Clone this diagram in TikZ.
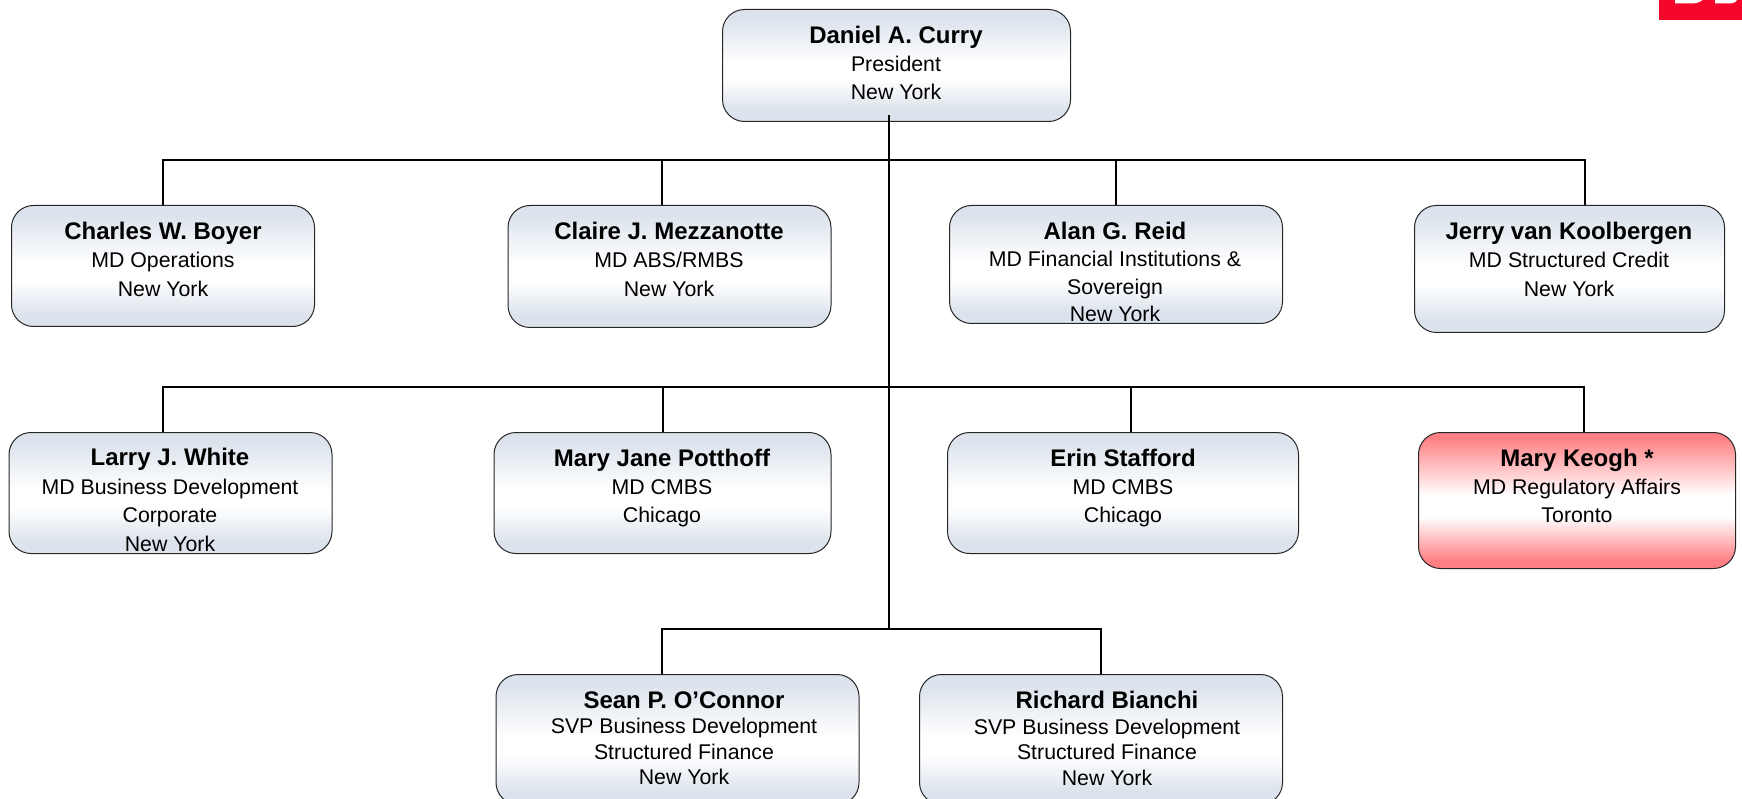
\documentclass[tikz,border=0pt]{standalone}
\usepackage{fontspec}
\setmainfont{Liberation Sans}
\definecolor{bandblue}{HTML}{DCE3EC}
\definecolor{bandred}{HTML}{FF8084}
\definecolor{logored}{HTML}{F5062B}
\pgfdeclareverticalshading{blueband}{100bp}{color(0bp)=(bandblue);color(30bp)=(bandblue);color(44bp)=(white);color(51bp)=(white);color(71bp)=(bandblue);color(100bp)=(bandblue)}
\pgfdeclareverticalshading{redband}{100bp}{color(0bp)=(bandred);color(28bp)=(bandred);color(44bp)=(white);color(52bp)=(white);color(73bp)=(bandred);color(100bp)=(bandred)}
\tikzset{
  box/.style={draw=black!85,line width=1pt,rounded corners=22pt,anchor=north west,inner sep=0pt,shading=blueband},
  redbox/.style={box,shading=redband},
  tlabel/.style={anchor=north,align=center,inner sep=0pt,text=black,font=\fontsize{21.3}{#1}\selectfont},
  wire/.style={draw=black,line width=2pt,line cap=butt,line join=miter}
}
\newcommand{\nm}[1]{{\fontsize{24}{28}\selectfont\bfseries #1}}
\begin{document}
\begin{tikzpicture}[x=1pt,y=-1pt]
\useasboundingbox (0,0) rectangle (1742,799);
\clip (0,0) rectangle (1742,799);
% logo
\fill[logored] (1659,-1) rectangle (1743,20);
\fill[white] (1675,-1) -- (1675,3.5) -- (1693,3.5) .. controls (1699,3) and (1702,1) .. (1703,-1) -- cycle;
\fill[white] (1715,-1) -- (1715,3.5) -- (1730,3.5) .. controls (1735,3) and (1737,1) .. (1738,-1) -- cycle;
% boxes
\node[box,minimum width=348pt,minimum height=112pt] (curry) at (722,9) {};
\node[box,minimum width=303pt,minimum height=121pt] (boyer) at (11,205) {};
\node[box,minimum width=323pt,minimum height=122pt] (mezz) at (507.5,205) {};
\node[box,minimum width=333pt,minimum height=118pt] (reid) at (949,205) {};
\node[box,minimum width=310pt,minimum height=127pt] (koolb) at (1414,205) {};
\node[box,minimum width=323pt,minimum height=121pt] (lwhite) at (8.5,432) {};
\node[box,minimum width=337pt,minimum height=121pt] (potth) at (493.5,432) {};
\node[box,minimum width=351pt,minimum height=121pt] (staff) at (947,432) {};
\node[redbox,minimum width=317pt,minimum height=136pt] (keogh) at (1418,432) {};
\node[box,minimum width=363pt,minimum height=130pt] (oconn) at (495.5,674) {};
\node[box,minimum width=363pt,minimum height=130pt] (bianc) at (919,674) {};
% texts
\node[tlabel=28] (tcurry) at (896,25.5) {\nm{Daniel A. Curry}\\President\\New York};
\node[tlabel=28.5] (tboyer) at (163,221.5) {\nm{Charles W. Boyer}\\MD Operations\\New York};
\node[tlabel=28.5] (tmezz) at (669,221.5) {\nm{Claire J. Mezzanotte}\\MD ABS/RMBS\\New York};
\node[tlabel=27.5] (treid) at (1115,221.5) {\nm{Alan G. Reid}\\MD Financial Institutions \&\\Sovereign\\New York};
\node[tlabel=28.5] (tkoolb) at (1569,221.5) {\nm{Jerry van Koolbergen}\\MD Structured Credit\\New York};
\node[tlabel=28.5] (twhite) at (170,448) {\nm{Larry J. White}\\MD Business Development\\Corporate\\New York};
\node[tlabel=28] (tpotth) at (662,448.5) {\nm{Mary Jane Potthoff}\\MD CMBS\\Chicago};
\node[tlabel=28] (tstaff) at (1123,448.5) {\nm{Erin Stafford}\\MD CMBS\\Chicago};
\node[tlabel=28] (tkeogh) at (1577,448.5) {\nm{Mary Keogh *}\\MD Regulatory Affairs\\Toronto};
\node[tlabel=25.5] (toconn) at (684,691.5) {\nm{Sean P. O’Connor}\\SVP Business Development\\Structured Finance\\New York};
\node[tlabel=25.5] (tbianc) at (1107,691) {\nm{Richard Bianchi}\\SVP Business Development\\Structured Finance\\New York};
% connector junctions
\coordinate (trunktop) at ([xshift=-8pt,yshift=7pt]curry.south);
\coordinate (j1) at (trunktop |- 0,160);
\coordinate (j2) at (trunktop |- 0,387);
\coordinate (j3) at (trunktop |- 0,629);
% connectors
\draw[wire] (trunktop) -- (j3);
\draw[wire] (j1) -| (boyer.north);
\draw[wire] (j1) -| ([xshift=-7.5pt]mezz.north);
\draw[wire] (j1) -| (reid.north);
\draw[wire] (j1) -| ([xshift=15pt]koolb.north);
\draw[wire] (j2) -| ([xshift=-8pt]lwhite.north);
\draw[wire] (j2) -| ([xshift=0pt]potth.north);
\draw[wire] (j2) -| ([xshift=7.5pt]staff.north);
\draw[wire] (j2) -| ([xshift=6.5pt]keogh.north);
\draw[wire] (j3) -| ([xshift=-15.5pt]oconn.north);
\draw[wire] (j3) -| (bianc.north);
\end{tikzpicture}
\end{document}
